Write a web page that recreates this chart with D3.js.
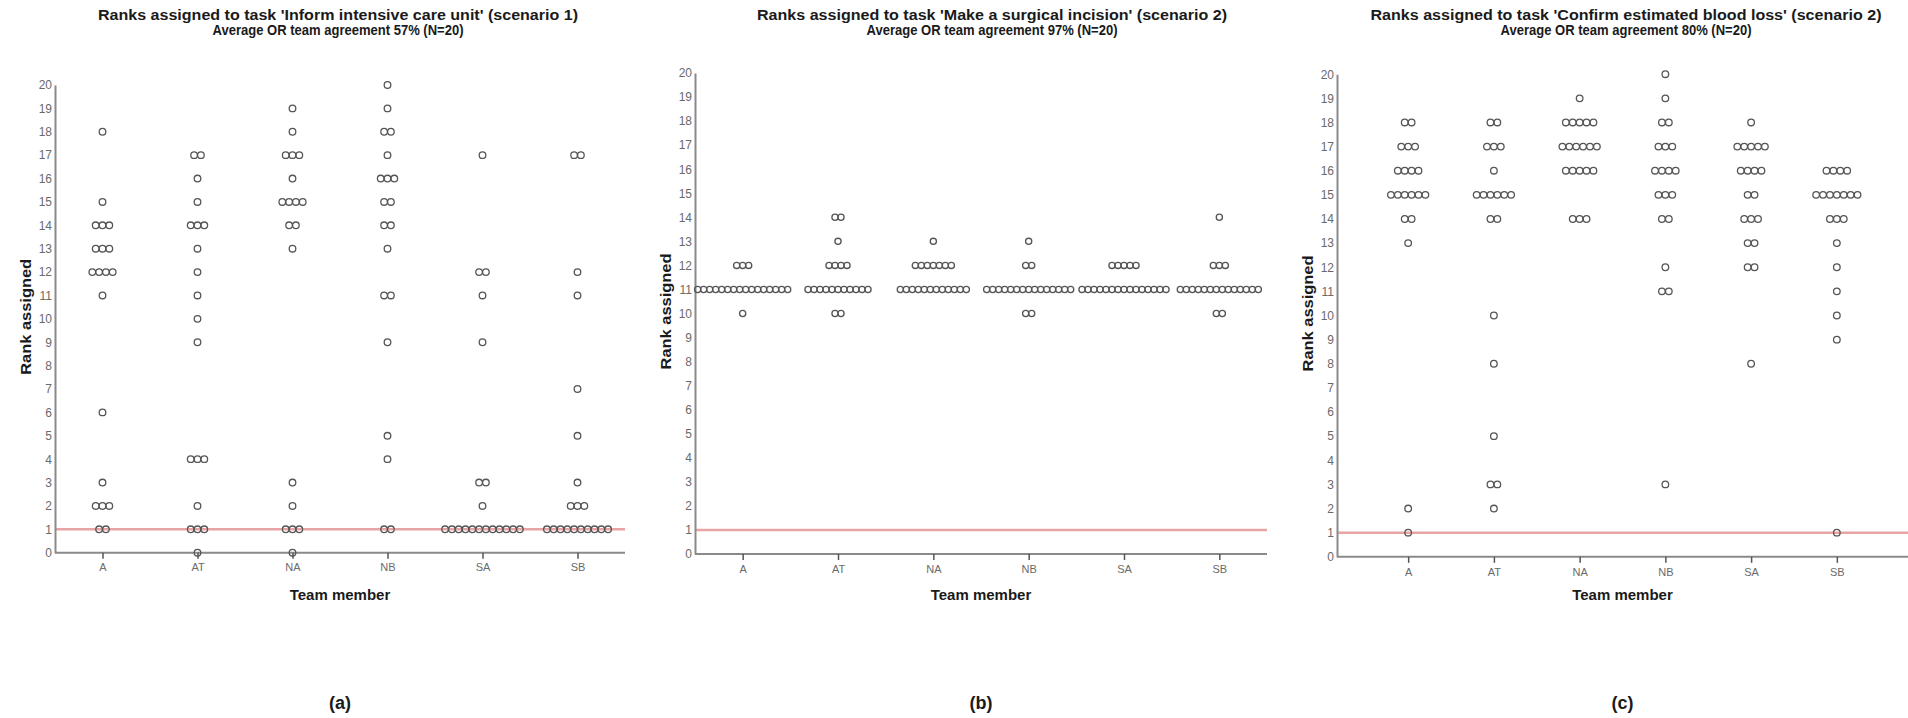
<!DOCTYPE html>
<html>
<head>
<meta charset="utf-8">
<script src="https://cdn.jsdelivr.net/npm/d3@7"></script>
<style>
  html, body { margin: 0; padding: 0; background: #fff; }
  svg { display: block; }
  text { font-family: "Liberation Sans", Arial, sans-serif; }
</style>
</head>
<body>
<svg id="chart" width="1908" height="718"></svg>
<script>
// ---------- data ----------
const members = ["A", "AT", "NA", "NB", "SA", "SB"];
const rankTicks = [0,1,2,3,4,5,6,7,8,9,10,11,12,13,14,15,16,17,18,19,20];
const referenceRank = 1;

const titlesA = ["Ranks assigned to task 'Inform intensive care unit' (scenario 1)", "Average OR team agreement 57% (N=20)"];
const titlesB = ["Ranks assigned to task 'Make a surgical incision' (scenario 2)", "Average OR team agreement 97% (N=20)"];
const titlesC = ["Ranks assigned to task 'Confirm estimated blood loss' (scenario 2)", "Average OR team agreement 80% (N=20)"];
const panelLabels = ["(a)", "(b)", "(c)"];

// Panel (a): Inform intensive care unit — ranks given by each team member
const icuA  = [18,15,14,14,14,13,13,13,12,12,12,12,11,6,3,2,2,2,1,1];
const icuAT = [17,17,16,15,14,14,14,13,12,11,10,9,4,4,4,2,1,1,1,0];
const icuNA = [19,18,17,17,17,16,15,15,15,15,14,14,13,3,2,1,1,1,0];
const icuNB = [20,19,18,18,17,16,16,16,15,15,14,14,13,11,11,9,5,4,1,1];
const icuSA = [17,12,12,11,9,3,3,2,1,1,1,1,1,1,1,1,1,1,1,1];
const icuSB = [17,17,12,11,7,5,3,2,2,2,1,1,1,1,1,1,1,1,1,1];

// Panel (b): Make a surgical incision
const incA  = [12,12,12,11,11,11,11,11,11,11,11,11,11,11,11,11,11,11,11,10];
const incAT = [14,14,13,12,12,12,12,11,11,11,11,11,11,11,11,11,11,11,10,10];
const incNA = [13,12,12,12,12,12,12,12,11,11,11,11,11,11,11,11,11,11,11,11];
const incNB = [13,12,12,11,11,11,11,11,11,11,11,11,11,11,11,11,11,11,10,10];
const incSA = [12,12,12,12,12,11,11,11,11,11,11,11,11,11,11,11,11,11,11,11];
const incSB = [14,12,12,12,11,11,11,11,11,11,11,11,11,11,11,11,11,11,10,10];

// Panel (c): Confirm estimated blood loss
const eblA  = [18,18,17,17,17,16,16,16,16,15,15,15,15,15,15,14,14,13,2,1];
const eblAT = [18,18,17,17,17,16,15,15,15,15,15,15,14,14,10,8,5,3,3,2];
const eblNA = [19,18,18,18,18,18,17,17,17,17,17,17,16,16,16,16,16,14,14,14];
const eblNB = [20,19,18,18,17,17,17,16,16,16,16,15,15,15,14,14,12,11,11,3];
const eblSA = [18,17,17,17,17,17,16,16,16,16,15,15,14,14,14,13,13,12,12,8];
const eblSB = [16,16,16,16,15,15,15,15,15,15,15,14,14,14,13,12,11,10,9,1];

// ---------- layout ----------
const panels = [
  { titles: titlesA, label: panelLabels[0], series: [icuA, icuAT, icuNA, icuNB, icuSA, icuSB],
    x0: 55, x1: 625, pad: 0.5, yBottom: 552.7, yTop: 85, step: 6.8, r: 3.3,
    titleX: 338, titleW: [480, 251] },
  { titles: titlesB, label: panelLabels[1], series: [incA, incAT, incNA, incNB, incSA, incSB],
    x0: 695, x1: 1267, pad: 0.5, yBottom: 554, yTop: 73, step: 6.0, r: 3.1,
    titleX: 992, titleW: [470, 251] },
  { titles: titlesC, label: panelLabels[2], series: [eblA, eblAT, eblNA, eblNB, eblSA, eblSB],
    x0: 1337, x1: 1908, pad: 0.83, yBottom: 556.8, yTop: 74.2, step: 6.9, r: 3.3,
    titleX: 1626, titleW: [511, 251] }
];

const svg = d3.select("#chart");
const axisColor = "#8a8a8a";
const tickTextColor = "#6a6a6a";
const ink = "#1a1a1a";

panels.forEach(p => {
  const g = svg.append("g");
  const x = d3.scalePoint().domain(members).range([p.x0, p.x1]).padding(p.pad);
  const y = d3.scaleLinear().domain([0, 20]).range([p.yBottom, p.yTop]);
  const cx = (p.x0 + p.x1) / 2;

  // titles
  [20, 35].forEach((ty, i) => {
    g.append("text").attr("x", p.titleX).attr("y", ty).attr("text-anchor", "middle")
      .attr("font-size", 14.5).attr("font-weight", "bold").attr("fill", ink)
      .attr("textLength", p.titleW[i]).attr("lengthAdjust", "spacingAndGlyphs")
      .text(p.titles[i]);
  });

  // reference line at rank 1
  g.append("line")
    .attr("x1", p.x0).attr("x2", p.x1)
    .attr("y1", y(referenceRank)).attr("y2", y(referenceRank))
    .attr("stroke", "#e8a4a4").attr("stroke-width", 2.5);

  // y axis
  const yAxis = d3.axisLeft(y).tickValues(rankTicks).tickSize(0).tickPadding(3).tickFormat(d3.format("d"));
  const ya = g.append("g").attr("transform", `translate(${p.x0},0)`).call(yAxis);
  ya.select(".domain").attr("stroke", axisColor).attr("stroke-width", 2);
  ya.selectAll("text").attr("font-size", 12).attr("fill", tickTextColor);

  // x axis
  const xAxis = d3.axisBottom(x).tickSizeInner(6).tickSizeOuter(0).tickPadding(5);
  const xa = g.append("g").attr("transform", `translate(0,${p.yBottom})`).call(xAxis);
  xa.select(".domain").attr("stroke", axisColor).attr("stroke-width", 2)
    .attr("d", `M${p.x0},0H${p.x1}`);
  xa.selectAll(".tick line").attr("stroke", "#555").attr("stroke-width", 1.5);
  xa.selectAll("text").attr("font-size", 11).attr("fill", tickTextColor);

  // axis titles
  g.append("text").attr("transform", `translate(${p.x0 - 24},${(p.yBottom + p.yTop) / 2 - 2}) rotate(-90)`)
    .attr("text-anchor", "middle").attr("font-size", 15).attr("font-weight", "bold").attr("fill", ink)
    .attr("textLength", 116).attr("lengthAdjust", "spacingAndGlyphs")
    .text("Rank assigned");
  g.append("text").attr("x", cx).attr("y", 600).attr("text-anchor", "middle")
    .attr("font-size", 15).attr("font-weight", "bold").attr("fill", ink).text("Team member");

  // panel label
  g.append("text").attr("x", cx).attr("y", 709).attr("text-anchor", "middle")
    .attr("font-size", 18).attr("font-weight", 600).attr("fill", ink)
    .attr("font-family", "'Open Sans','Noto Sans',sans-serif").text(p.label);

  // dots: stack equal ranks side by side, centred on the member position
  members.forEach((m, mi) => {
    const counts = d3.rollups(p.series[mi], v => v.length, d => d);
    const pts = [];
    counts.forEach(([rank, n]) => {
      for (let i = 0; i < n; i++) pts.push({ rank, off: i - (n - 1) / 2 });
    });
    g.append("g").selectAll("circle").data(pts).join("circle")
      .attr("cx", d => x(m) + d.off * p.step)
      .attr("cy", d => y(d.rank))
      .attr("r", p.r)
      .attr("fill", "none")
      .attr("stroke", "#555")
      .attr("stroke-width", 1.3);
  });
});
</script>
</body>
</html>
